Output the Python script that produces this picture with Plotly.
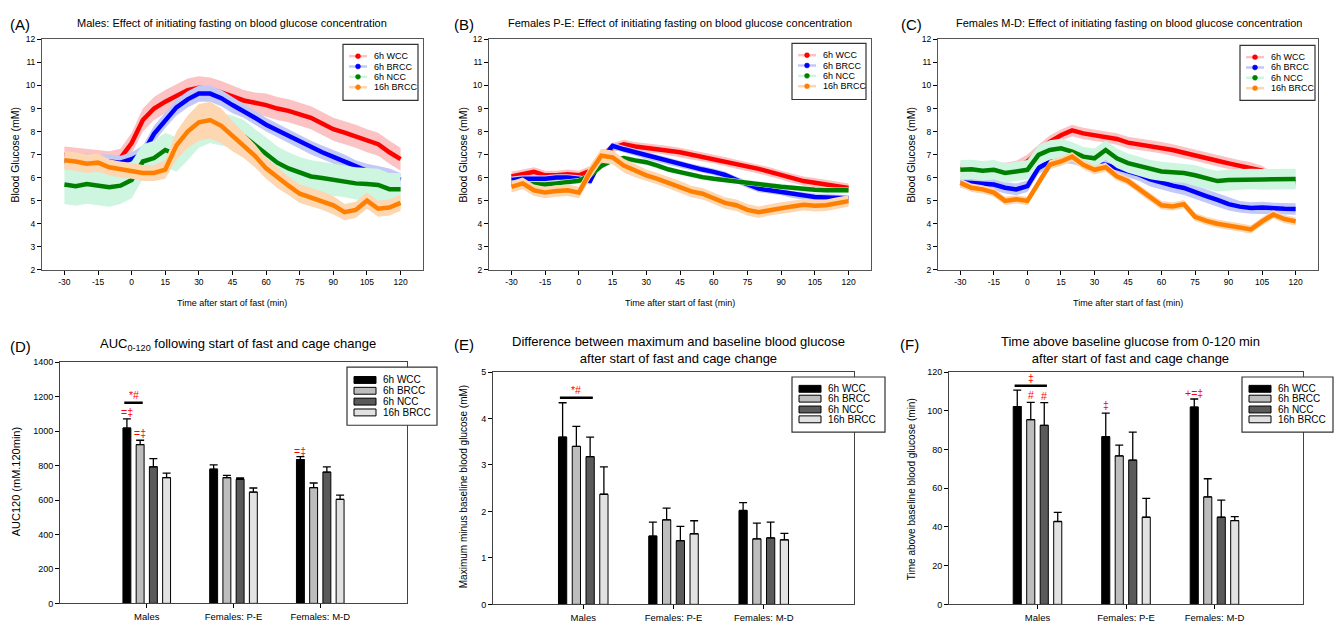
import plotly.graph_objects as go

W, H = 1335, 631
FONT = "Liberation Sans, Arial, sans-serif"

# ---------------- data: time courses (mean and SEM, mM) ----------------
time_min = [-30, -25, -20, -15, -10, -5, 0, 5, 10, 15, 20, 25, 30, 35, 40, 45,
            50, 55, 60, 65, 70, 75, 80, 85, 90, 95, 100, 105, 110, 115, 120]
time_ticks = [-30, -15, 0, 15, 30, 45, 60, 75, 90, 105, 120]
time_tick_labels = ["-30", "-15", "0", "15", "30", "45", "60", "75", "90", "105", "120"]
glucose_ticks = [2, 3, 4, 5, 6, 7, 8, 9, 10, 11, 12]
series_names = ["6h WCC", "6h BRCC", "6h NCC", "16h BRCC"]

# Panel A - Males
A_wcc = [7.0, 6.95, 6.9, 6.85, 6.8, 6.85, 7.5, 8.5, 9.0, 9.3, 9.55, 9.8, 9.9, 9.85, 9.7, 9.5,
         9.35, 9.25, 9.15, 9.0, 8.9, 8.75, 8.6, 8.35, 8.1, 7.95, 7.8, 7.6, 7.45, 7.1, 6.8]
A_wcc_sem = [0.35, 0.35, 0.35, 0.35, 0.35, 0.4, 0.45, 0.5, 0.5, 0.5, 0.5, 0.5, 0.5, 0.5, 0.5, 0.5,
             0.45, 0.45, 0.5, 0.5, 0.5, 0.5, 0.5, 0.5, 0.5, 0.5, 0.5, 0.5, 0.5, 0.5, 0.5]
A_brcc = [6.7, 6.75, 6.75, 6.7, 6.7, 6.65, 6.8, 7.05, 7.9, 8.5, 9.05, 9.4, 9.65, 9.65, 9.45, 9.15,
          8.9, 8.6, 8.3, 8.05, 7.8, 7.55, 7.3, 7.1, 6.9, 6.7, 6.45, 6.3, 6.2, 6.1, 5.9]
A_brcc_sem = [0.3, 0.3, 0.3, 0.3, 0.3, 0.3, 0.3, 0.35, 0.35, 0.35, 0.35, 0.35, 0.35, 0.35, 0.35, 0.35,
              0.3, 0.3, 0.3, 0.3, 0.3, 0.3, 0.3, 0.3, 0.3, 0.3, 0.3, 0.3, 0.3, 0.3, 0.3]
A_ncc = [5.7, 5.63, 5.72, 5.65, 5.58, 5.65, 5.9, 6.7, 6.85, 7.2, 7.0, 7.5, 8.0, 8.2, 8.1, 8.0,
         7.8, 7.4, 7.05, 6.65, 6.4, 6.2, 6.05, 5.98, 5.9, 5.85, 5.75, 5.72, 5.68, 5.5, 5.5]
A_ncc_sem = [0.85, 0.85, 0.85, 0.85, 0.85, 0.8, 0.8, 0.75, 0.75, 0.75, 0.75, 0.75, 0.7, 0.7, 0.7, 0.7,
             0.7, 0.7, 0.7, 0.7, 0.7, 0.7, 0.7, 0.7, 0.7, 0.7, 0.7, 0.7, 0.7, 0.7, 0.7]
A_16h = [6.75, 6.7, 6.6, 6.65, 6.45, 6.35, 6.3, 6.2, 6.2, 6.35, 7.4, 8.0, 8.4, 8.5, 8.25, 7.8,
         7.4, 6.95, 6.4, 6.0, 5.65, 5.3, 5.15, 5.0, 4.8, 4.5, 4.6, 5.0, 4.65, 4.7, 4.9]
A_16h_sem = [0.4, 0.4, 0.4, 0.4, 0.35, 0.35, 0.35, 0.35, 0.35, 0.4, 0.6, 0.7, 0.8, 0.8, 0.75, 0.65,
             0.55, 0.5, 0.45, 0.45, 0.4, 0.4, 0.4, 0.4, 0.4, 0.35, 0.35, 0.35, 0.35, 0.35, 0.35]

# Panel B - Females P-E
B_wcc = [6.05, 6.15, 6.25, 6.1, 6.1, 6.15, 6.1, 6.3, 6.9, 7.3, 7.45, 7.35, 7.3, 7.25, 7.17, 7.1,
         7.0, 6.9, 6.82, 6.7, 6.58, 6.47, 6.38, 6.25, 6.1, 5.98, 5.85, 5.78, 5.7, 5.63, 5.55]
B_wcc_sem = [0.2, 0.2, 0.2, 0.2, 0.2, 0.2, 0.2, 0.2, 0.2, 0.2, 0.2, 0.2, 0.2, 0.2, 0.2, 0.2,
             0.2, 0.2, 0.2, 0.2, 0.2, 0.2, 0.2, 0.2, 0.2, 0.2, 0.2, 0.2, 0.2, 0.2, 0.2]
B_brcc = [5.9, 5.95, 5.95, 5.95, 6.0, 6.0, 5.95, 5.85, 6.8, 7.38, 7.23, 7.1, 6.95, 6.82, 6.7, 6.58,
          6.45, 6.35, 6.25, 6.12, 5.9, 5.7, 5.52, 5.45, 5.38, 5.27, 5.2, 5.16, 5.14, 5.12, 5.1]
B_brcc_sem = [0.15, 0.15, 0.15, 0.15, 0.15, 0.15, 0.15, 0.15, 0.15, 0.15, 0.15, 0.15, 0.15, 0.15, 0.15, 0.15,
              0.15, 0.15, 0.15, 0.15, 0.15, 0.15, 0.15, 0.15, 0.15, 0.15, 0.15, 0.15, 0.15, 0.15, 0.15]
B_ncc = [5.75, 5.72, 5.72, 5.7, 5.75, 5.8, 5.86, 6.1, 6.5, 6.75, 6.85, 6.75, 6.67, 6.52, 6.35, 6.24,
         6.12, 6.02, 5.95, 5.9, 5.85, 5.78, 5.72, 5.66, 5.6, 5.55, 5.5, 5.47, 5.45, 5.45, 5.45]
B_ncc_sem = [0.12, 0.12, 0.12, 0.12, 0.12, 0.12, 0.12, 0.12, 0.12, 0.12, 0.12, 0.12, 0.12, 0.12, 0.12, 0.12,
             0.12, 0.12, 0.12, 0.12, 0.12, 0.12, 0.12, 0.12, 0.12, 0.12, 0.12, 0.12, 0.12, 0.12, 0.12]
B_16h = [5.6, 5.75, 5.45, 5.35, 5.42, 5.45, 5.35, 6.24, 6.95, 6.88, 6.52, 6.3, 6.1, 5.95, 5.78, 5.6,
         5.4, 5.3, 5.1, 4.9, 4.8, 4.6, 4.5, 4.6, 4.68, 4.75, 4.82, 4.78, 4.8, 4.9, 4.98]
B_16h_sem = [0.25, 0.25, 0.25, 0.25, 0.25, 0.25, 0.25, 0.3, 0.3, 0.3, 0.3, 0.28, 0.25, 0.25, 0.25, 0.25,
             0.25, 0.25, 0.25, 0.25, 0.25, 0.25, 0.25, 0.25, 0.25, 0.25, 0.25, 0.25, 0.25, 0.25, 0.25]

# Panel C - Females M-D
C_wcc = [6.4, 6.4, 6.4, 6.4, 6.4, 6.45, 6.7, 7.13, 7.55, 7.84, 8.05, 7.92, 7.84, 7.78, 7.68, 7.52,
         7.45, 7.37, 7.3, 7.2, 7.08, 6.98, 6.86, 6.73, 6.62, 6.5, 6.42, 6.3, 6.0, 5.9, 5.8]
C_wcc_sem = [0.25, 0.25, 0.25, 0.25, 0.25, 0.28, 0.3, 0.3, 0.28, 0.25, 0.25, 0.25, 0.25, 0.25, 0.25, 0.25,
             0.25, 0.25, 0.25, 0.25, 0.25, 0.25, 0.25, 0.25, 0.25, 0.25, 0.25, 0.22, 0.2, 0.2, 0.2]
C_brcc = [5.8, 5.77, 5.7, 5.7, 5.56, 5.49, 5.63, 6.42, 6.7, 6.91, 6.84, 6.7, 6.6, 6.56, 6.42, 6.27,
          6.13, 5.92, 5.77, 5.65, 5.55, 5.4, 5.2, 5.03, 4.85, 4.74, 4.68, 4.7, 4.66, 4.65, 4.64]
C_brcc_sem = [0.25, 0.25, 0.25, 0.25, 0.25, 0.25, 0.25, 0.25, 0.25, 0.25, 0.25, 0.25, 0.25, 0.25, 0.25, 0.25,
              0.28, 0.3, 0.3, 0.3, 0.3, 0.3, 0.3, 0.3, 0.28, 0.25, 0.25, 0.25, 0.25, 0.25, 0.25]
C_ncc = [6.34, 6.36, 6.3, 6.34, 6.2, 6.28, 6.34, 6.99, 7.2, 7.27, 7.13, 6.91, 6.84, 7.2, 6.84, 6.63,
         6.5, 6.35, 6.27, 6.23, 6.2, 6.1, 5.95, 5.85, 5.9, 5.92, 5.94, 5.92, 5.93, 5.92, 5.94]
C_ncc_sem = [0.42, 0.42, 0.42, 0.42, 0.42, 0.42, 0.42, 0.42, 0.42, 0.42, 0.42, 0.42, 0.42, 0.42, 0.42, 0.42,
             0.42, 0.42, 0.42, 0.42, 0.42, 0.45, 0.45, 0.45, 0.45, 0.45, 0.45, 0.45, 0.45, 0.45, 0.45]
C_16h = [5.77, 5.56, 5.49, 5.35, 4.99, 5.06, 4.99, 5.77, 6.56, 6.7, 6.91, 6.56, 6.34, 6.45, 6.06, 5.85,
         5.5, 5.13, 4.8, 4.75, 4.85, 4.3, 4.12, 4.0, 3.92, 3.82, 3.75, 4.1, 4.4, 4.2, 4.1]
C_16h_sem = [0.18, 0.18, 0.18, 0.18, 0.18, 0.18, 0.18, 0.2, 0.2, 0.2, 0.2, 0.2, 0.2, 0.2, 0.18, 0.18,
             0.18, 0.18, 0.18, 0.18, 0.18, 0.18, 0.18, 0.18, 0.18, 0.18, 0.18, 0.18, 0.18, 0.18, 0.18]

# ---------------- data: bar charts ----------------
categories = ["Males", "Females: P-E", "Females: M-D"]

D_wcc, D_wcc_sem = [1018, 779, 835], [53, 25, 17]
D_brcc, D_brcc_sem = [922, 730, 672], [25, 13, 27]
D_ncc, D_ncc_sem = [793, 720, 762], [47, 8, 31]
D_16h, D_16h_sem = [730, 646, 604], [26, 24, 24]

E_wcc, E_wcc_sem = [3.60, 1.47, 2.02], [0.74, 0.30, 0.17]
E_brcc, E_brcc_sem = [3.40, 1.82, 1.41], [0.43, 0.25, 0.34]
E_ncc, E_ncc_sem = [3.18, 1.37, 1.43], [0.42, 0.31, 0.34]
E_16h, E_16h_sem = [2.37, 1.52, 1.39], [0.59, 0.28, 0.14]

F_wcc, F_wcc_sem = [102.2, 86.6, 101.9], [8.5, 12.2, 4.2]
F_brcc, F_brcc_sem = [95.4, 76.7, 55.5], [9.0, 5.6, 9.4]
F_ncc, F_ncc_sem = [92.5, 74.5, 45.0], [11.7, 14.5, 8.8]
F_16h, F_16h_sem = [42.8, 45.0, 43.3], [4.7, 9.8, 2.0]

# significance marks: (category index, group index, text, y)
D_marks = [(0, 0, "=‡", 1110), (0, 1, "=‡", 990), (2, 0, "=‡", 885)]
E_marks = []
F_marks = [(0, 1, "#", 108), (0, 2, "#", 107.5), (1, 0, "‡", 103), (2, 0, "+=‡", 109)]
# significance bars: (category, first group, last group, y, label)
D_sig = [(0, 0, 1, 1165, "*#")]
E_sig = [(0, 0, 2, 4.45, "*#")]
F_sig = [(0, 0, 2, 113, "‡")]

# ---------------- styles ----------------
line_colors = ["#ff0000", "#0000ff", "#008000", "#ff8000"]
band_colors = ["#fbc3c3", "#c3c9f7", "#cdf5e0", "#fdd6b2"]
bar_colors = ["#000000", "#bdbdbd", "#5a5a5a", "#e2e2e2"]
BARGAP, BARGROUPGAP = 0.39, 0.40


def P(x, y):
    return x / W, 1 - y / H


fig = go.Figure()
shapes = []
annotations = []


def ann(x, y, text, size, xanchor="center", yanchor="middle", color="#000", textangle=0, ref=None):
    d = dict(text=text, showarrow=False, font=dict(family=FONT, size=size, color=color),
             xanchor=xanchor, yanchor=yanchor, textangle=textangle)
    if ref is None:
        px, py = P(x, y)
        d.update(x=px, y=py, xref="paper", yref="paper")
    else:
        d.update(x=x, y=y, xref=ref[0], yref=ref[1])
    annotations.append(d)


# ---------------- top panels ----------------
top_panels = [
    (1, [A_wcc, A_brcc, A_ncc, A_16h], [A_wcc_sem, A_brcc_sem, A_ncc_sem, A_16h_sem], (42, 423)),
    (2, [B_wcc, B_brcc, B_ncc, B_16h], [B_wcc_sem, B_brcc_sem, B_ncc_sem, B_16h_sem], (489, 871)),
    (3, [C_wcc, C_brcc, C_ncc, C_16h], [C_wcc_sem, C_brcc_sem, C_ncc_sem, C_16h_sem], (938, 1318)),
]
layout_axes = {}
for idx, means, sems, (x0, x1) in top_panels:
    xa = "x" if idx == 1 else f"x{idx}"
    ya = "y" if idx == 1 else f"y{idx}"
    for name, m, s, lc, bc in zip(series_names, means, sems, line_colors, band_colors):
        upper = [a + b for a, b in zip(m, s)]
        lower = [a - b for a, b in zip(m, s)]
        fig.add_trace(go.Scatter(x=time_min + time_min[::-1], y=upper + lower[::-1],
                                 fill="toself", fillcolor=bc, mode="lines", line=dict(width=0, color=bc),
                                 showlegend=False, hoverinfo="skip", xaxis=xa, yaxis=ya))
        fig.add_trace(go.Scatter(x=time_min, y=m, mode="lines", name=name,
                                 line=dict(color=lc, width=4.5), showlegend=False, xaxis=xa, yaxis=ya))
    xk = "xaxis" if idx == 1 else f"xaxis{idx}"
    yk = "yaxis" if idx == 1 else f"yaxis{idx}"
    layout_axes[xk] = dict(domain=[x0 / W, x1 / W], anchor=ya, range=[-40, 130], tickvals=time_ticks,
                           ticktext=time_tick_labels,
                           ticks="outside", ticklen=4, tickcolor="#000", showgrid=False, zeroline=False,
                           showline=True, mirror=True, linecolor="#555", linewidth=1,
                           tickfont=dict(family=FONT, size=8.5, color="#000"))
    layout_axes[yk] = dict(domain=[1 - 269 / H, 1 - 35 / H], anchor=xa, range=[2, 12], tickvals=glucose_ticks,
                           ticks="outside", ticklen=4, tickcolor="#000", showgrid=False, zeroline=False,
                           showline=True, mirror=True, linecolor="#555", linewidth=1,
                           tickfont=dict(family=FONT, size=8.5, color="#000"))

# ---------------- bar panels ----------------
slot = (1 - BARGAP) / 4
offsets = [(k - 1.5) * slot for k in range(4)]
bar_panels = [
    (4, [D_wcc, D_brcc, D_ncc, D_16h], [D_wcc_sem, D_brcc_sem, D_ncc_sem, D_16h_sem],
     (60, 407), (363, 608), [0, 1400], 200, D_marks, D_sig),
    (5, [E_wcc, E_brcc, E_ncc, E_16h], [E_wcc_sem, E_brcc_sem, E_ncc_sem, E_16h_sem],
     (493, 854), (373, 609), [0, 5], 1, E_marks, E_sig),
    (6, [F_wcc, F_brcc, F_ncc, F_16h], [F_wcc_sem, F_brcc_sem, F_ncc_sem, F_16h_sem],
     (949, 1303), (373, 609), [0, 120], 20, F_marks, F_sig),
]
for idx, means, sems, (x0, x1), (y0, y1), yr, dt, marks, sigs in bar_panels:
    xa, ya = f"x{idx}", f"y{idx}"
    for name, m, s, c in zip(series_names, means, sems, bar_colors):
        fig.add_trace(go.Bar(x=categories, y=m, name=name, showlegend=False, xaxis=xa, yaxis=ya,
                             marker=dict(color=c, line=dict(color="#000", width=1)),
                             error_y=dict(type="data", array=s, arrayminus=[0] * len(s), symmetric=False,
                                          color="#000", thickness=1.3, width=4)))
    layout_axes[f"xaxis{idx}"] = dict(domain=[x0 / W, x1 / W], anchor=ya, type="category",
                                      categoryorder="array", categoryarray=categories, range=[-1, 3],
                                      ticks="outside", ticklen=4, tickcolor="#000", showgrid=False,
                                      zeroline=False, showline=True, mirror=True, linecolor="#444",
                                      linewidth=1, tickfont=dict(family=FONT, size=9.5, color="#000"))
    layout_axes[f"yaxis{idx}"] = dict(domain=[1 - y1 / H, 1 - y0 / H], anchor=xa, range=yr, dtick=dt,
                                      ticks="outside", ticklen=4, tickcolor="#000", showgrid=False,
                                      zeroline=False, showline=True, mirror=True, linecolor="#444",
                                      linewidth=1, tickfont=dict(family=FONT, size=9, color="#000"))
    for ci, gi, txt, yv in marks:
        ann(ci + offsets[gi], yv, txt, 10.5, color="#ff0000", ref=(xa, ya))
    for ci, g0, g1, yv, txt in sigs:
        xs, xe = ci + offsets[g0] - 0.03, ci + offsets[g1] + 0.03
        shapes.append(dict(type="line", xref=xa, yref=ya, x0=xs, x1=xe, y0=yv, y1=yv,
                           line=dict(color="#000", width=2.5)))
        ann((xs + xe) / 2, yv, txt, 10.5, yanchor="bottom", color="#ff0000", ref=(xa, ya))


# ---------------- legends (drawn) ----------------
def line_legend(left, top, w, h):
    x0, y0 = P(left, top)
    x1, y1 = P(left + w, top + h)
    shapes.append(dict(type="rect", xref="paper", yref="paper", x0=x0, x1=x1, y0=y1, y1=y0,
                       fillcolor="#fff", line=dict(color="#333", width=1.2)))
    for k, (name, lc, bc) in enumerate(zip(series_names, line_colors, band_colors)):
        yy = top + 12 + k * 10.5
        a, b = P(left + 6, yy)
        c, _ = P(left + 24, yy)
        shapes.append(dict(type="line", xref="paper", yref="paper", x0=a, x1=c, y0=b, y1=b,
                           line=dict(color=bc, width=2.5)))
        cx0, cy0 = P(left + 12.5, yy - 2.5)
        cx1, cy1 = P(left + 17.5, yy + 2.5)
        shapes.append(dict(type="circle", xref="paper", yref="paper", x0=cx0, x1=cx1, y0=cy1, y1=cy0,
                           fillcolor=lc, line=dict(color=lc, width=0.5)))
        ann(left + 29, yy, name, 9, xanchor="left")


def bar_legend(left, top, w, h, rows):
    x0, y0 = P(left, top)
    x1, y1 = P(left + w, top + h)
    shapes.append(dict(type="rect", xref="paper", yref="paper", x0=x0, x1=x1, y0=y1, y1=y0,
                       fillcolor="#fff", line=dict(color="#333", width=1.2)))
    for k, (name, c) in enumerate(zip(series_names, bar_colors)):
        yy = top + rows[k]
        a, b = P(left + 7, yy - 3.5)
        cc, d = P(left + 29, yy + 3.5)
        shapes.append(dict(type="rect", xref="paper", yref="paper", x0=a, x1=cc, y0=d, y1=b,
                           fillcolor=c, line=dict(color="#000", width=1)))
        ann(left + 34, yy, name, 10, xanchor="left")


line_legend(343, 40, 75, 57)
line_legend(792, 39, 74, 57)
line_legend(1240, 41, 75, 56)
bar_legend(347, 368, 90, 59, [13, 24, 35, 46])
bar_legend(792, 378, 93, 56, [12, 22, 33, 43])
bar_legend(1242, 378, 91, 56, [12, 22, 33, 43])

# ---------------- titles and labels ----------------
for lbl, x, y in [("(A)", 8, 20), ("(B)", 452, 20), ("(C)", 899, 20),
                  ("(D)", 8, 347), ("(E)", 452, 345), ("(F)", 898, 345)]:
    ann(x, y, lbl, 15, xanchor="left")

ann(232, 18, "Males: Effect of initiating fasting on blood glucose concentration", 11)
ann(680, 18, "Females P-E: Effect of initiating fasting on blood glucose concentration", 11)
ann(1129, 18, "Females M-D: Effect of initiating fasting on blood glucose concentration", 11)
for cx in (232, 680, 1128):
    ann(cx, 303, "Time after start of fast (min)", 9)
for cx in (15, 463, 911):
    ann(cx, 152, "Blood Glucose (mM)", 10.5, textangle=-90)

ann(238, 345, "AUC<sub>0-120</sub> following start of fast and cage change", 13)
ann(678, 351, "Difference between maximum and baseline blood glucose<br>after start of fast and cage change", 13)
ann(1130, 351, "Time above baseline glucose from 0-120 min<br>after start of fast and cage change", 13)
ann(16, 485, "AUC120 (mM.120min)", 11, textangle=-90)
ann(463, 490, "Maximum minus baseline blood glucose (mM)", 10, textangle=-90)
ann(911, 492, "Time above baseline blood glucose (min)", 10, textangle=-90)

fig.update_layout(width=W, height=H, margin=dict(l=0, r=0, t=0, b=0),
                  paper_bgcolor="#fff", plot_bgcolor="#fff", showlegend=False,
                  barmode="group", bargap=BARGAP, bargroupgap=BARGROUPGAP,
                  font=dict(family=FONT, color="#000"),
                  shapes=shapes, annotations=annotations, **layout_axes)

fig.write_html("out.html")
